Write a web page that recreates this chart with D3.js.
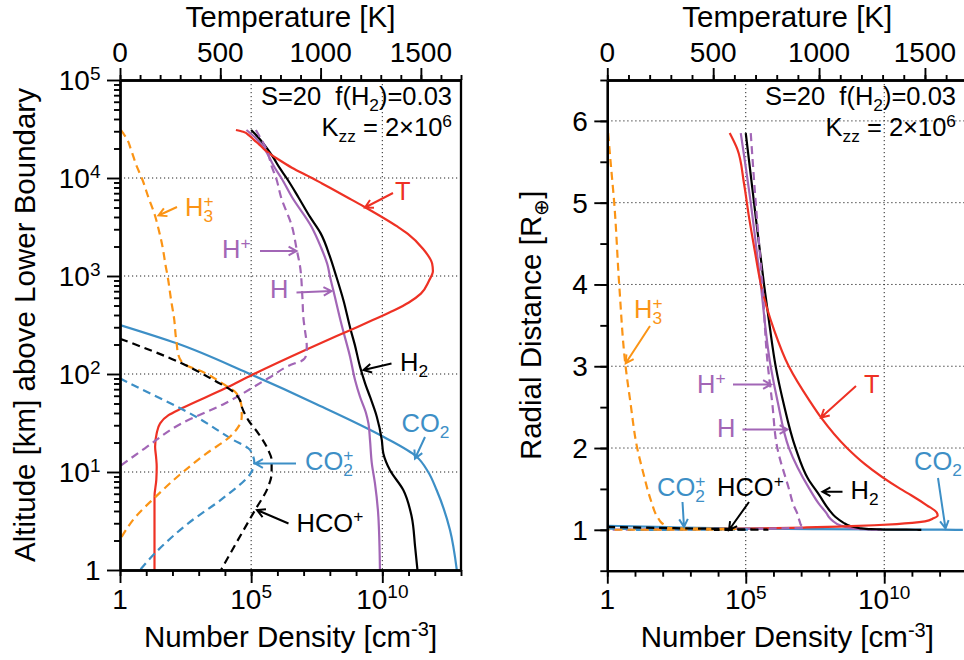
<!DOCTYPE html>
<html><head><meta charset="utf-8">
<script src="https://cdn.jsdelivr.net/npm/d3@7"></script>
<style>
body{margin:0;background:#fff}
svg{font-family:"Liberation Sans",Arial,Helvetica,sans-serif;display:block}
</style></head><body>
<svg id="c" width="964" height="660"></svg>
<script>
// ---------------- DATA ----------------
// each profile: [log10 altitude above lower boundary (km), log10 number density (cm^-3)]
const nH2 = [[4.49,5.0],[4.406,5.30],[4.281,5.66],[4.202,5.86],[4.105,6.08],[4.0,6.35],[3.804,6.80],[3.6,7.25],[3.435,7.65],[3.2,8.0],[3.0,8.24],[2.75,8.52],[2.465,8.78],[2.3,8.95],[2.075,9.15],[1.9,9.35],[1.768,9.53],[1.564,9.79],[1.327,9.98],[1.19,10.04],[1.02,10.29],[0.816,10.8],[0.544,11.12],[0.238,11.25],[0,11.34]];
const nH = [[4.49,4.82],[4.406,5.18],[4.281,5.54],[4.105,5.90],[4.0,6.15],[3.804,6.56],[3.503,7.30],[3.3,7.65],[3.105,7.92],[3.0,8.0],[2.857,8.13],[2.5,8.45],[2.177,8.77],[1.939,8.96],[1.768,9.15],[1.6,9.38],[1.497,9.47],[1.327,9.53],[1.088,9.6],[0.884,9.72],[0.544,9.85],[0,9.91]];
const nHplus = [[4.49,5.18],[4.406,5.36],[4.281,5.6],[4.105,5.8],[4.0,5.95],[3.804,6.14],[3.503,6.56],[3.265,6.74],[3.105,6.86],[2.8,6.95],[2.55,7.0],[2.45,7.05],[2.28,7.12],[2.18,7.08],[2.13,6.9],[2.109,6.67],[1.956,5.65],[1.70,4.0],[1.497,2.35],[1.242,0.95],[1.06,0]];
const nH3plus = [[4.49,0.03],[4.457,0.12],[4.406,0.25],[4.281,0.43],[4.105,0.66],[4.0,0.83],[3.804,1.08],[3.62,1.33],[3.5,1.45],[3.3,1.62],[3.105,1.74],[2.99,1.82],[2.75,1.95],[2.55,2.07],[2.40,2.12],[2.313,2.16],[2.2,2.22],[2.126,2.35],[2.08,2.6],[2.04,2.99],[1.888,4.0],[1.82,4.38],[1.735,4.57],[1.65,4.64],[1.564,4.64],[1.46,4.51],[1.36,4.19],[1.19,3.3],[1.0,2.4],[0.74,1.33],[0.544,0.6],[0.31,0]];
const nCO2 = [[2.5,0],[2.313,2.16],[2.007,4.89],[1.70,7.43],[1.36,10.04],[1.156,11.31],[1.0,11.75],[0.816,12.07],[0.408,12.58],[0,12.84]];
const nCO2plus = [[1.955,0],[1.929,0.19],[1.55,2.99],[1.33,4.3],[1.242,4.89],[1.156,5.08],[1.10,5.12],[1.04,5.08],[0.987,4.98],[0.748,4.0],[0.476,2.6],[0.17,1.33],[0,0.76]];
const nHCOplus = [[2.36,0],[2.109,2.35],[1.95,3.49],[1.803,4.38],[1.735,4.57],[1.667,4.64],[1.53,4.89],[1.395,5.27],[1.224,5.65],[1.122,5.78],[0.987,5.78],[0.85,5.65],[0.612,5.15],[0.374,4.64],[0,3.85]];
// temperature profile: [log10 altitude (km), T (K)]
const tempK = [[4.49,578],[4.472,614],[4.432,645],[4.387,669],[4.338,696],[4.284,724],[4.236,755],[4.193,787],[4.105,857],[4.0,957],[3.944,1007],[3.804,1132],[3.71,1215],[3.503,1384],[3.43,1435],[3.281,1509],[3.127,1556],[3.05,1560],[2.95,1540],[2.82,1500],[2.73,1440],[2.65,1367],[2.55,1260],[2.45,1150],[2.26,941],[1.99,658],[1.854,525],[1.65,308],[1.58,242],[1.497,200],[1.395,183],[1.258,175],[1.15,180],[1.054,183],[0.92,181],[0.748,172],[0.4,172],[0,172]];

// tick values / labels
const densityMajor = [1, 1e5, 1e10];
const densityLabels = [["1",""],["10","5"],["10","10"]];
const tempMajor = [0, 500, 1000, 1500];
const tempLabels = ["0","500","1000","1500"];
const altMajor = [1, 10, 100, 1000, 1e4, 1e5];
const altLabels = [["1",""],["10","1"],["10","2"],["10","3"],["10","4"],["10","5"]];
const radMajor = [1, 2, 3, 4, 5, 6];
const radLabels = ["1","2","3","4","5","6"];
const earthRadiusKm = 6371;

// ---------------- STYLE ----------------
const COL = {T:"#ee3124", H2:"#000000", H:"#a266b6", CO2:"#3d8fc6", H3:"#fb9415"};
const FS_TICK = 28, FS_TITLE = 29.5, FS_ANN = 25.5;

const svg = d3.select("#c");

function rich(g, x, y, parts, fs, color, anchor){
  const t = g.append("text").attr("x",x).attr("y",y).attr("font-size",fs)
    .attr("fill",color).attr("text-anchor",anchor||"start")
    .attr("xml:space","preserve").style("white-space","pre");
  let cur = 0;
  const ss = fs*0.68, up = -0.36*fs, dn = 0.24*fs;
  parts.forEach(p => {
    const [s, kind] = p;
    if (kind === "stack") {
      t.append("tspan").attr("dy", up-cur).attr("font-size", ss).text(s[0]);
      t.append("tspan").attr("dx", -0.584*ss).attr("dy", dn-up).attr("font-size", ss).text(s[1]);
      cur = dn;
    } else {
      const target = kind === "sup" ? up : kind === "sub" ? dn : 0;
      t.append("tspan").attr("dy", target-cur).attr("font-size", kind ? ss : fs).text(s);
      cur = target;
    }
  });
  return t;
}

function arrow(g, x1, y1, x2, y2, color){
  const a = Math.atan2(y2-y1, x2-x1), L = 9, s = 0.5;
  const p = d3.path();
  p.moveTo(x1,y1); p.lineTo(x2,y2);
  p.moveTo(x2 - L*Math.cos(a-s), y2 - L*Math.sin(a-s));
  p.lineTo(x2,y2);
  p.lineTo(x2 - L*Math.cos(a+s), y2 - L*Math.sin(a+s));
  g.append("path").attr("d", p.toString()).attr("fill","none")
    .attr("stroke", color).attr("stroke-width", 2).attr("stroke-linejoin","miter");
}

function styleAxis(sel){
  sel.select(".domain").attr("stroke","#000").attr("stroke-width",2.3);
  sel.selectAll(".tick line").attr("stroke","#000").attr("stroke-width",1.9);
}

function drawPanel(cfg){
  const {id, x0, x1, y0, y1} = cfg;
  const g = svg.append("g");
  const x = d3.scaleLog().domain([1, 1e13]).range([x0, x1]);
  const t = d3.scaleLinear().domain([0, 1700]).range([x0, x1]);
  const y = cfg.yScale;
  const alt = cfg.alt;

  svg.append("clipPath").attr("id","clip"+id).append("rect")
    .attr("x",x0).attr("y",y0).attr("width",x1-x0).attr("height",y1-y0);

  // grid
  const grid = g.append("g").attr("stroke","#222").attr("stroke-width",1).attr("stroke-dasharray","1.2,2.8");
  [1e5, 1e10].forEach(v => grid.append("line").attr("x1",x(v)).attr("x2",x(v)).attr("y1",y0).attr("y2",y1));
  cfg.gridY.forEach(v => grid.append("line").attr("x1",x0).attr("x2",x1).attr("y1",y(v)).attr("y2",y(v)));

  // curves
  const plot = g.append("g").attr("clip-path",`url(#clip${id})`).attr("fill","none").attr("stroke-width",2.2);
  const dens = d3.line().x(d => x(Math.pow(10,d[1]))).y(d => y(alt(Math.pow(10,d[0])))).curve(d3.curveMonotoneY);
  const temp = d3.line().x(d => t(d[1])).y(d => y(alt(Math.pow(10,d[0])))).curve(d3.curveMonotoneY);
  plot.append("path").attr("d", dens(nCO2)).attr("stroke", COL.CO2);
  plot.append("path").attr("d", dens(nH)).attr("stroke", COL.H);
  plot.append("path").attr("d", dens(nH2)).attr("stroke", COL.H2);
  plot.append("path").attr("d", temp(tempK)).attr("stroke", COL.T);
  const dash = "8,5";
  plot.append("path").attr("d", dens(nHplus)).attr("stroke", COL.H).attr("stroke-dasharray", dash);
  plot.append("path").attr("d", dens(nCO2plus)).attr("stroke", COL.CO2).attr("stroke-dasharray", dash);
  plot.append("path").attr("d", dens(nH3plus)).attr("stroke", COL.H3).attr("stroke-dasharray", dash);
  plot.append("path").attr("d", dens(nHCOplus)).attr("stroke", COL.H2).attr("stroke-dasharray", dash);

  // bottom axis
  const decades = d3.range(0, 14).map(e => Math.pow(10, e));
  const bm = g.append("g").attr("transform",`translate(0,${y1})`)
    .call(d3.axisBottom(x).tickValues(decades).tickSize(6).tickSizeOuter(0).tickFormat(""));
  styleAxis(bm);
  const bM = g.append("g").attr("transform",`translate(0,${y1})`)
    .call(d3.axisBottom(x).tickValues(densityMajor).tickSize(13).tickSizeOuter(0).tickFormat(""));
  styleAxis(bM);
  densityMajor.forEach((v,i) => {
    const [b,e] = densityLabels[i];
    rich(g, x(v), y1+38.5, e ? [[b],[e,"sup"]] : [[b]], FS_TICK, "#000", "middle");
  });
  rich(g, (x0+x1)/2, y1+76.5, [["Number Density [cm"],["-3","sup"],["]"]], FS_TITLE, "#000", "middle");

  // top axis
  const tm = g.append("g").attr("transform",`translate(0,${y0})`)
    .call(d3.axisTop(t).tickValues(d3.range(0, 1701, 100)).tickSize(5).tickSizeOuter(0).tickFormat(""));
  styleAxis(tm);
  const tM = g.append("g").attr("transform",`translate(0,${y0})`)
    .call(d3.axisTop(t).tickValues(tempMajor).tickSize(12).tickSizeOuter(0).tickFormat(""));
  styleAxis(tM);
  tempMajor.forEach((v,i) => rich(g, t(v), y0-18.5, [[tempLabels[i]]], FS_TICK, "#000", "middle"));
  rich(g, (x0+x1)/2, 27, [["Temperature [K]"]], FS_TITLE, "#000", "middle");

  // left axis
  const lm = g.append("g").attr("transform",`translate(${x0},0)`)
    .call(d3.axisLeft(y).tickValues(cfg.yMinor).tickSize(cfg.minorLen).tickSizeOuter(0).tickFormat(""));
  styleAxis(lm);
  const lM = g.append("g").attr("transform",`translate(${x0},0)`)
    .call(d3.axisLeft(y).tickValues(cfg.yMajor).tickSize(13).tickSizeOuter(0).tickFormat(""));
  styleAxis(lM);
  cfg.yMajor.forEach((v,i) => {
    const lab = cfg.yLabels[i];
    const parts = Array.isArray(lab) ? (lab[1] ? [[lab[0]],[lab[1],"sup"]] : [[lab[0]]]) : [[lab]];
    rich(g, x0-19.5, y(v)+10, parts, FS_TICK, "#000", "end");
  });

  // right frame
  g.append("line").attr("x1",x1).attr("x2",x1).attr("y1",y0-1).attr("y2",y1+1)
    .attr("stroke","#000").attr("stroke-width",2.3);

  // y title
  const yt = g.append("g").attr("transform",`translate(${cfg.yTitleX},${(y0+y1)/2}) rotate(-90)`);
  rich(yt, 0, 0, cfg.yTitle, FS_TITLE, "#000", "middle");

  // parameter text
  rich(g, cfg.paramX, 105, [["S=20  f(H"],["2","sub"],[")=0.03"]], FS_ANN, "#000", "end");
  rich(g, cfg.paramX, 136, [["K"],["zz","sub"],[" = 2×10"],["6","sup"]], FS_ANN, "#000", "end");

  // annotations
  cfg.ann.forEach(a => {
    rich(g, a.tx, a.ty, a.parts, FS_ANN, a.c, "start");
    arrow(g, a.a[0], a.a[1], a.a[2], a.a[3], a.c);
  });
}

const logMinor = [];
for (let e = 0; e < 5; e++) for (let m = 2; m <= 9; m++) logMinor.push(m*Math.pow(10,e));

drawPanel({
  id: "L", x0: 120, x1: 461, y0: 80, y1: 570,
  yScale: d3.scaleLog().domain([1, 1e5]).range([570, 80]),
  alt: z => z,
  gridY: [10, 100, 1000, 1e4],
  yMinor: logMinor, minorLen: 6,
  yMajor: altMajor, yLabels: altLabels,
  yTitleX: 35,
  yTitle: [["Altitude [km] above Lower Boundary"]],
  paramX: 452,
  ann: [
    {parts:[["H"],[["+","3"],"stack"]], c:COL.H3, tx:185, ty:216, a:[177,207,158.5,215.5]},
    {parts:[["T"]], c:COL.T, tx:395, ty:200, a:[393,193,365,207.5]},
    {parts:[["H"],["+","sup"]], c:COL.H, tx:222, ty:258, a:[260,251,296.5,251]},
    {parts:[["H"]], c:COL.H, tx:270, ty:298, a:[296.5,292.5,331.5,291]},
    {parts:[["H"],["2","sub"]], c:COL.H2, tx:400, ty:371, a:[391.5,363.5,363.5,370]},
    {parts:[["CO"],["2","sub"]], c:COL.CO2, tx:401.5, ty:432, a:[425,437,415,458.5]},
    {parts:[["CO"],[["+","2"],"stack"]], c:COL.CO2, tx:305, ty:470, a:[296,463.5,255,463.5]},
    {parts:[["HCO"],["+","sup"]], c:COL.H2, tx:296.5, ty:531.5, a:[288.5,523.5,257,510]}
  ]
});

drawPanel({
  id: "R", x0: 607.3, x1: 967.3, y0: 80, y1: 570.7,
  yScale: d3.scaleLinear().domain([0.5, 6.5]).range([570.7, 80]),
  alt: z => 1 + z/earthRadiusKm,
  gridY: [2, 3, 4, 5, 6],
  yMinor: d3.range(0.5, 6.51, 0.5), minorLen: 7,
  yMajor: radMajor, yLabels: radLabels,
  yTitleX: 541,
  yTitle: [["Radial Distance [R"],["⊕","sub"],["]"]],
  paramX: 956,
  ann: [
    {parts:[["H"],[["+","3"],"stack"]], c:COL.H3, tx:634, ty:318, a:[650,326,625.7,363.3]},
    {parts:[["T"]], c:COL.T, tx:864, ty:393, a:[856,386,821,417.5]},
    {parts:[["H"],["+","sup"]], c:COL.H, tx:697, ty:393, a:[733,384.5,771,384.5]},
    {parts:[["H"]], c:COL.H, tx:717, ty:437, a:[742.5,429.5,787.5,429.5]},
    {parts:[["H"],["2","sub"]], c:COL.H2, tx:850.5, ty:498.5, a:[842.5,491.7,822.5,491.7]},
    {parts:[["CO"],["2","sub"]], c:COL.CO2, tx:914, ty:470, a:[938,478,945.5,528.5]},
    {parts:[["CO"],[["+","2"],"stack"]], c:COL.CO2, tx:657, ty:496, a:[682.5,502,684,527]},
    {parts:[["HCO"],["+","sup"]], c:COL.H2, tx:717, ty:496, a:[749,502,729,530]}
  ]
});
</script>
</body></html>
